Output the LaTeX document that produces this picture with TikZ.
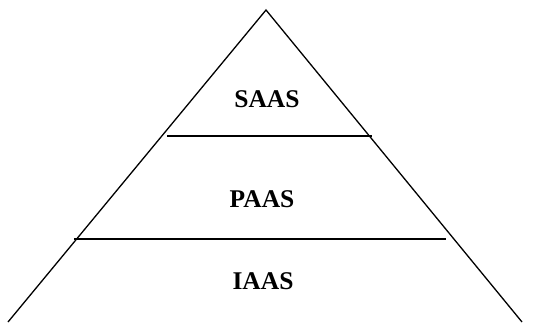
\documentclass[tikz,border=0pt]{standalone}
\usepackage{fontspec}
\setmainfont{Liberation Serif}
\usetikzlibrary{positioning}

\begin{document}
\begin{tikzpicture}[x=1pt, y=-1pt, line width=1.3pt,
  layer/.style={font=\fontsize{25.5}{30}\selectfont\bfseries, inner sep=0pt}]

  \useasboundingbox (0,0) rectangle (534,322);

  % Pyramid outline (no base line)
  \coordinate (apex) at (266,10);
  \coordinate (baseL) at (8,322);
  \coordinate (baseR) at (522,322);
  \draw (baseL) -- (apex) -- (baseR);

  % Dividing lines
  \coordinate (topL) at (167,136);
  \coordinate (topR) at (372,136);
  \coordinate (midL) at (74,239);
  \coordinate (midR) at (446,239);
  \draw (topL) -- (topR);
  \draw (midL) -- (midR);

  % Layer labels
  \node[layer] (saas) at (267,99) {SAAS};
  \node[layer] (paas) at (262,199) {PAAS};
  \node[layer] (iaas) at (263,281) {IAAS};

\end{tikzpicture}
\end{document}
